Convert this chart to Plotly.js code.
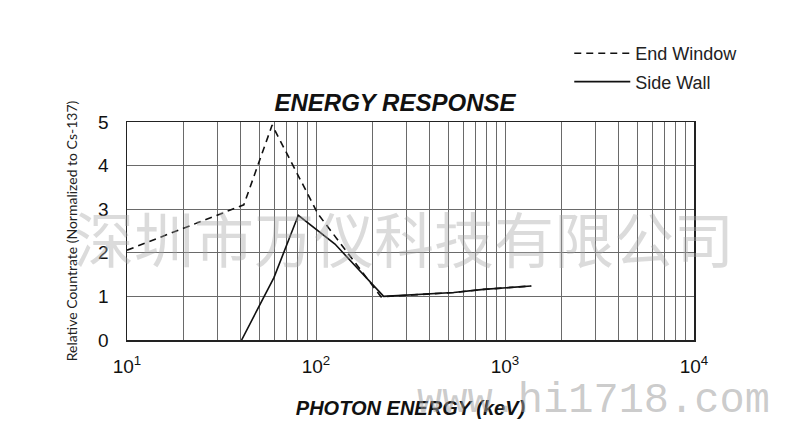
<!DOCTYPE html>
<html>
<head>
<meta charset="utf-8">
<script src="https://cdn.plot.ly/plotly-3.0.1.min.js"></script>
<style>html,body{margin:0;padding:0;background:#fff;}#chart{width:800px;height:441px;}</style>
</head>
<body>
<div id="chart"></div>
<script>
// Photon energy (keV) and relative countrate (normalized to Cs-137)
const endWindowEnergy = [10, 41.5, 58.6, 102.5, 221, 535, 771, 1377];
const endWindowRate   = [2.06, 3.1, 4.93, 2.89, 0.99, 1.09, 1.16, 1.24];
const sideWallEnergy  = [40.4, 59.9, 80.6, 126, 228, 535, 771, 1377];
const sideWallRate    = [0, 1.43, 2.86, 2.2, 1.0, 1.09, 1.16, 1.24];
const seriesNames     = ['End Window', 'Side Wall'];
const xTickVals       = [10, 100, 1000, 10000];
const xTickText       = ['10<sup>1</sup>', '10<sup>2</sup>', '10<sup>3</sup>', '10<sup>4</sup>'];
const yTickVals       = [0, 1, 2, 3, 4, 5];
const watermarkCompany = '深圳市万仪科技有限公司';
const watermarkSite    = 'www.hi1718.com';

const sans = '"Liberation Sans", Arial, sans-serif';

const traces = [
  {
    x: endWindowEnergy, y: endWindowRate, name: seriesNames[0],
    type: 'scatter', mode: 'lines', legendgroup: 'a',
    line: {color: '#111', width: 1.6, dash: '7px,5px'}
  },
  {
    x: sideWallEnergy, y: sideWallRate, name: seriesNames[1],
    type: 'scatter', mode: 'lines', legendgroup: 'b',
    line: {color: '#111', width: 1.6}
  }
];

const layout = {
  width: 800, height: 441,
  margin: {l: 127, r: 106, t: 122, b: 101},
  paper_bgcolor: '#fff', plot_bgcolor: '#fff',
  showlegend: true,
  legend: {
    x: 0.780, y: 1 - 35/441, xref: 'paper', yref: 'container',
    xanchor: 'left', yanchor: 'top',
    font: {family: sans, size: 18, color: '#222'},
    itemwidth: 56, tracegroupgap: 2, bgcolor: 'rgba(0,0,0,0)'
  },
  title: {
    text: 'ENERGY RESPONSE',
    font: {family: sans, size: 24, weight: 'bold', style: 'italic', color: '#111'},
    x: 395/800, xanchor: 'center', xref: 'container',
    y: 1 - 103/441, yanchor: 'middle', yref: 'container'
  },
  xaxis: {
    type: 'log', range: [1, 4], autorange: false,
    tickmode: 'array', tickvals: xTickVals, ticktext: xTickText,
    ticks: '', ticklabelstandoff: 9,
    tickfont: {family: sans, size: 19, color: '#111'},
    showgrid: true, gridcolor: '#6a6a6a', gridwidth: 1,
    minor: {dtick: 'D1', showgrid: true, gridcolor: '#6a6a6a', gridwidth: 1, ticks: ''},
    showline: true, mirror: true, linecolor: '#222', linewidth: 1.5,
    zeroline: false,
    title: {
      text: 'PHOTON ENERGY (keV)', standoff: 24,
      font: {family: sans, size: 20, weight: 'bold', style: 'italic', color: '#111'}
    }
  },
  yaxis: {
    range: [0, 5], autorange: false,
    tickmode: 'array', tickvals: yTickVals,
    ticks: '', ticklabelstandoff: 13,
    tickfont: {family: sans, size: 19, color: '#111'},
    showgrid: true, gridcolor: '#6a6a6a', gridwidth: 1,
    showline: true, mirror: true, linecolor: '#222', linewidth: 1.5,
    zeroline: false,
    title: {
      text: 'Relative Countrate (Normalized to Cs-137)', standoff: 17,
      font: {family: 'Lato, "Open Sans", sans-serif', size: 14, color: '#222'}
    }
  },
  annotations: [
    {
      text: watermarkCompany, xref: 'paper', yref: 'paper',
      x: (404-127)/567, y: (340-236)/218, xanchor: 'center', yanchor: 'middle',
      showarrow: false,
      font: {family: '"Noto Sans CJK SC", sans-serif', size: 60, color: 'rgba(165,165,165,0.4)'}
    },
    {
      text: watermarkSite, xref: 'paper', yref: 'paper',
      x: (415-127)/567, y: (340-401)/218, xanchor: 'left', yanchor: 'middle',
      showarrow: false,
      font: {family: '"Liberation Mono", "DejaVu Serif", serif', size: 42, color: 'rgba(160,160,160,0.55)'}
    }
  ]
};

Plotly.newPlot('chart', traces, layout, {displayModeBar: false, staticPlot: true});
</script>
</body>
</html>
